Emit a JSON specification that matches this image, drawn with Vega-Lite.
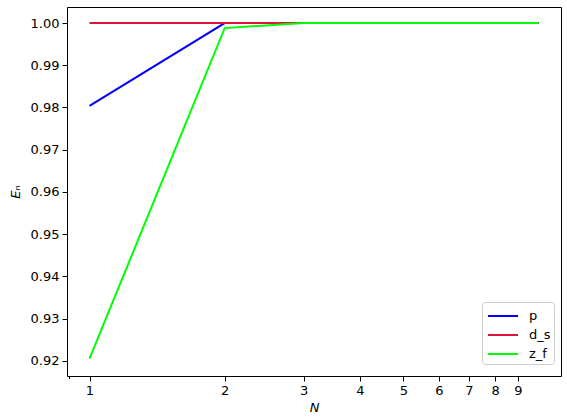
{
  "$schema": "https://vega.github.io/schema/vega-lite/v6.json",
  "width": 494,
  "height": 369,
  "autosize": "none",
  "padding": {"left": 67, "top": 7, "right": 6, "bottom": 44},
  "background": "white",
  "config": {
    "font": "DejaVu Sans",
    "view": {"stroke": "black", "strokeWidth": 1},
    "axis": {
      "labelFont": "DejaVu Sans", "labelFontSize": 13, "labelColor": "black",
      "titleFont": "DejaVu Sans", "titleFontSize": 13, "titleColor": "black", "titleFontWeight": "normal",
      "domain": false, "grid": false, "tickColor": "black", "tickSize": 5, "labelPadding": 3
    }
  },
  "data": {
    "values": [
      {"N": 1, "E": 0.9804, "s": "p"},
      {"N": 2, "E": 1.0, "s": "p"},
      {"N": 3, "E": 1.0, "s": "p"},
      {"N": 4, "E": 1.0, "s": "p"},
      {"N": 5, "E": 1.0, "s": "p"},
      {"N": 6, "E": 1.0, "s": "p"},
      {"N": 7, "E": 1.0, "s": "p"},
      {"N": 8, "E": 1.0, "s": "p"},
      {"N": 9, "E": 1.0, "s": "p"},
      {"N": 10, "E": 1.0, "s": "p"},
      {"N": 1, "E": 1.0, "s": "d_s"},
      {"N": 2, "E": 1.0, "s": "d_s"},
      {"N": 3, "E": 1.0, "s": "d_s"},
      {"N": 4, "E": 1.0, "s": "d_s"},
      {"N": 5, "E": 1.0, "s": "d_s"},
      {"N": 6, "E": 1.0, "s": "d_s"},
      {"N": 7, "E": 1.0, "s": "d_s"},
      {"N": 8, "E": 1.0, "s": "d_s"},
      {"N": 9, "E": 1.0, "s": "d_s"},
      {"N": 10, "E": 1.0, "s": "d_s"},
      {"N": 1, "E": 0.9205, "s": "z_f"},
      {"N": 2, "E": 0.9988, "s": "z_f"},
      {"N": 3, "E": 1.0, "s": "z_f"},
      {"N": 4, "E": 1.0, "s": "z_f"},
      {"N": 5, "E": 1.0, "s": "z_f"},
      {"N": 6, "E": 1.0, "s": "z_f"},
      {"N": 7, "E": 1.0, "s": "z_f"},
      {"N": 8, "E": 1.0, "s": "z_f"},
      {"N": 9, "E": 1.0, "s": "z_f"},
      {"N": 10, "E": 1.0, "s": "z_f"}
    ]
  },
  "layer": [
    {
      "mark": {"type": "line", "strokeWidth": 2, "clip": true},
      "encoding": {
        "x": {
          "field": "N", "type": "quantitative",
          "scale": {"type": "log", "domain": [0.891, 11.22], "nice": false, "zero": false},
          "axis": {
            "values": [0.9, 1, 2, 3, 4, 5, 6, 7, 8, 9], "format": "d",
            "labelExpr": "datum.value < 1 ? '' : datum.label",
            "tickSize": {"condition": {"test": "datum.value < 1", "value": 2.5}, "value": 5},
            "title": "N", "titleFontStyle": "italic", "titlePadding": 4, "labelFlush": false
          }
        },
        "y": {
          "field": "E", "type": "quantitative",
          "scale": {"domain": [0.9164, 1.0038], "nice": false, "zero": false},
          "axis": {"values": [0.92, 0.93, 0.94, 0.95, 0.96, 0.97, 0.98, 0.99, 1.0], "format": ".2f", "title": "Eₙ", "titleFontStyle": "italic", "titlePadding": 8, "labelFlush": false}
        },
        "color": {
          "field": "s", "type": "nominal",
          "scale": {"domain": ["p", "d_s", "z_f"], "range": ["#0000ff", "#dc143c", "#00ff00"]},
          "legend": {
            "title": null, "orient": "none", "legendX": 415, "legendY": 295,
            "symbolType": "M-0.8,0H2.2", "symbolStrokeWidth": 2, "symbolSize": 400, "symbolFillColor": "transparent",
            "labelFont": "DejaVu Sans", "labelFontSize": 13, "labelColor": "black",
            "strokeColor": "#cccccc", "fillColor": "white", "cornerRadius": 3, "padding": 3, "rowPadding": 1, "labelOffset": 22, "offset": 0
          }
        }
      }
    }
  ]
}
